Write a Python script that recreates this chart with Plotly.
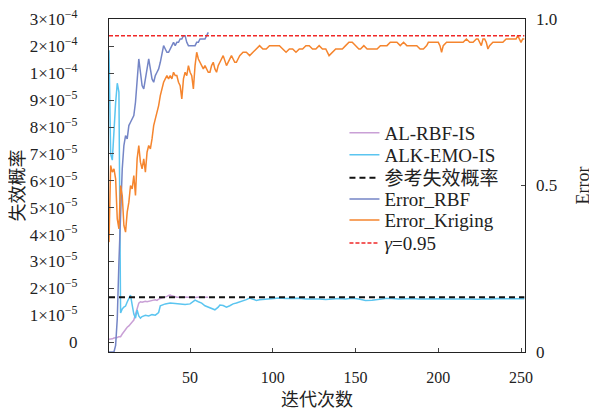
import plotly.graph_objects as go

# ---------------- data ----------------
# failure probability values in units of 1e-5
rbf_pf_iter = list(range(1, 62))
rbf_pf_val = [0.10, 0.10, 0.12, 0.15, 0.15, 0.17, 0.20, 0.20, 0.30, 0.40,
              0.50, 0.55, 0.60, 0.70, 0.75, 0.82, 1.05, 1.20, 1.45, 1.50,
              1.48, 1.50, 1.52, 1.50, 1.52, 1.53, 1.55, 1.56, 1.57, 1.55,
              1.60, 1.62, 1.63, 1.65, 1.66, 1.70, 1.73, 1.75, 1.72, 1.70,
              1.68, 1.67, 1.67, 1.66, 1.67, 1.68, 1.67, 1.66, 1.67, 1.67,
              1.68, 1.67, 1.66, 1.67, 1.67, 1.68, 1.67, 1.67, 1.66, 1.67, 1.67]

emo_pf_iter = [1, 2, 3, 4, 5, 6, 7, 8, 9, 10, 11, 12, 13, 14, 15, 16, 17, 18, 19, 20,
               21, 23, 25, 27, 29, 31, 32, 33, 35, 38, 41, 44, 47, 50, 52, 53, 55, 57, 59, 61,
               63, 65, 67, 68, 70, 72, 74, 76, 78, 80, 82, 84, 86, 88, 90, 92, 94, 96, 98, 100,
               104, 108, 112, 116, 120, 124, 128, 132, 136, 140, 144, 148, 152, 156, 160, 164,
               168, 172, 176, 180, 184, 188, 192, 196, 200, 204, 208, 212, 216, 220, 224, 228,
               232, 236, 240, 244, 248, 252]
emo_pf_val = [18.6, 7.0, 6.77, 7.96, 8.9, 9.63, 9.3, 1.08, 1.23, 1.30, 1.34, 1.49, 1.64, 1.75, 1.38, 1.04, 0.89, 1.19, 0.97, 0.89,
              0.95, 1.00, 0.97, 1.02, 1.00, 1.10, 1.35, 1.38, 1.42, 1.45, 1.44, 1.43, 1.40, 1.42, 1.50, 1.56, 1.50, 1.45, 1.35, 1.30,
              1.25, 1.20, 1.30, 1.38, 1.36, 1.30, 1.35, 1.42, 1.45, 1.49, 1.52, 1.58, 1.64, 1.60, 1.55, 1.57, 1.58, 1.60, 1.60, 1.62,
              1.64, 1.62, 1.63, 1.63, 1.60, 1.61, 1.60, 1.58, 1.60, 1.62, 1.60, 1.63, 1.60, 1.55, 1.56, 1.60,
              1.62, 1.62, 1.60, 1.61, 1.62, 1.60, 1.61, 1.62, 1.61, 1.60, 1.60, 1.62, 1.61, 1.60, 1.59, 1.61,
              1.60, 1.62, 1.61, 1.62, 1.61, 1.61]

ref_pf = 1.67
ref_iter = [1, 252]

# errors (right axis)
err_rbf_iter = list(range(1, 62))
err_rbf_val = [0.0, 0.0, 0.0, 0.0, 0.02, 0.10, 0.27, 0.45, 0.55, 0.62,
               0.65, 0.64, 0.68, 0.69, 0.70, 0.71, 0.75, 0.83, 0.88, 0.84,
               0.80, 0.79, 0.82, 0.86, 0.88, 0.85, 0.82, 0.81, 0.83, 0.84,
               0.85, 0.87, 0.90, 0.92, 0.91, 0.90, 0.90, 0.91, 0.92, 0.93,
               0.92, 0.93, 0.93, 0.94, 0.94, 0.95, 0.95, 0.93, 0.92, 0.92,
               0.92, 0.92, 0.92, 0.93, 0.93, 0.94, 0.94, 0.94, 0.94, 0.95, 0.96]

err_krg_iter = list(range(1, 69)) + [70, 72, 74, 75, 77, 78, 80, 82, 84, 86, 88, 90, 92, 94, 96, 98,
    100, 102, 104, 106, 108, 110, 112, 114, 116, 118, 120, 122, 124, 126, 128, 130, 132, 134, 136,
    138, 140, 142, 144, 146, 148, 150, 152, 153, 155, 157, 159, 161, 163, 165, 167, 169, 171, 173,
    175, 177, 179, 181, 183, 185, 187, 189, 191, 193, 194, 196, 198, 200, 201, 202, 203, 205, 207,
    209, 211, 213, 215, 217, 219, 221, 223, 224, 225, 226, 227, 228, 229, 230, 231, 233, 235, 237,
    239, 241, 243, 245, 247, 248, 249, 250, 251, 252]
err_krg_val = [0.33, 0.56, 0.54, 0.55, 0.52, 0.40, 0.37, 0.50, 0.47, 0.38,
               0.36, 0.42, 0.45, 0.50, 0.49, 0.53, 0.47, 0.58, 0.62, 0.57,
               0.55, 0.58, 0.54, 0.60, 0.62, 0.61, 0.64, 0.68, 0.70, 0.72,
               0.74, 0.77, 0.79, 0.81, 0.82, 0.83, 0.82, 0.83, 0.82, 0.84,
               0.83, 0.83, 0.81, 0.80, 0.76, 0.82, 0.84, 0.83, 0.86, 0.84,
               0.83, 0.79, 0.86, 0.90, 0.88, 0.87, 0.86, 0.85, 0.86, 0.85,
               0.84, 0.84, 0.86, 0.87, 0.85, 0.84, 0.86, 0.87,
               0.89, 0.86, 0.88, 0.89, 0.87, 0.87, 0.89, 0.90, 0.90, 0.89, 0.90, 0.91, 0.92, 0.91, 0.91, 0.92,
               0.92, 0.92, 0.92, 0.91, 0.90, 0.91, 0.91, 0.90, 0.91, 0.91, 0.92, 0.92, 0.91, 0.91, 0.92,
               0.91, 0.91, 0.89, 0.90, 0.91, 0.91, 0.91, 0.92, 0.93, 0.93, 0.92, 0.91, 0.91, 0.92,
               0.91, 0.91, 0.91, 0.91, 0.92, 0.92, 0.92, 0.93, 0.93, 0.93, 0.92, 0.93, 0.92, 0.92,
               0.92, 0.92, 0.91, 0.91, 0.92, 0.93, 0.93, 0.93, 0.93, 0.92, 0.90, 0.92, 0.93, 0.93,
               0.93, 0.93, 0.93, 0.93, 0.94, 0.93, 0.93, 0.94, 0.94, 0.93, 0.92, 0.94, 0.94, 0.93,
               0.91, 0.92, 0.93, 0.93, 0.93, 0.93, 0.94, 0.94, 0.94, 0.94, 0.95, 0.94, 0.93, 0.94, 0.94]

gamma = 0.95

# tick labels
left_tickvals = [0, 1, 2, 3, 4, 5, 6, 7, 8, 9, 10, 20, 30]  # units of 1e-5
left_ticktext = ["0"] + [f"{k}×10<sup>−5</sup>" for k in range(1, 10)] + \
                ["1×10<sup>−4</sup>", "2×10<sup>−4</sup>", "3×10<sup>−4</sup>"]
x_ticks = [50, 100, 150, 200, 250]


def to_axis(v):
    # broken (piecewise linear) axis: 1e-5 per unit below 1e-4, 1e-4 per unit above
    return v if v <= 10 else 10 + (v - 10) / 10.0


FONT = "Liberation Serif, 'Times New Roman', 'Noto Sans CJK SC', serif"

fig = go.Figure()
fig.add_trace(go.Scatter(x=rbf_pf_iter, y=[to_axis(v) for v in rbf_pf_val], mode="lines",
                         name="AL-RBF-IS", legend="legend",
                         line=dict(color="#C9A0D6", width=1.5)))
fig.add_trace(go.Scatter(x=emo_pf_iter, y=[to_axis(v) for v in emo_pf_val], mode="lines",
                         name="ALK-EMO-IS", legend="legend2",
                         line=dict(color="#5BC5F0", width=1.5)))
fig.add_trace(go.Scatter(x=ref_iter, y=[to_axis(ref_pf)] * 2, mode="lines",
                         name="参考失效概率", legend="legend3",
                         line=dict(color="#111111", width=2, dash="6px,4px")))
fig.add_trace(go.Scatter(x=err_rbf_iter, y=err_rbf_val, mode="lines", yaxis="y2",
                         name="Error_RBF", legend="legend4",
                         line=dict(color="#7485C6", width=1.5)))
fig.add_trace(go.Scatter(x=err_krg_iter, y=err_krg_val, mode="lines", yaxis="y2",
                         name="Error_Kriging", legend="legend5",
                         line=dict(color="#F5852E", width=1.5)))
fig.add_trace(go.Scatter(x=ref_iter, y=[gamma] * 2, mode="lines", yaxis="y2",
                         name="<i>γ</i>=0.95", legend="legend6",
                         line=dict(color="#F02828", width=1.5, dash="4px,2px")))

legend_y = [0.658, 0.592, 0.523, 0.459, 0.396, 0.327]
legend_common = dict(x=0.566, xanchor="left", yanchor="middle",
                     bgcolor="rgba(0,0,0,0)", font=dict(size=19, family=FONT, color="#222222"),
                     itemwidth=30)

# page body has an 8px margin: figure is sized/offset to compensate
fig.update_layout(
    width=589, height=411,
    margin=dict(l=101, r=72, t=11, b=67),
    paper_bgcolor="white", plot_bgcolor="white",
    font=dict(family=FONT, size=16, color="#222222"),
    showlegend=True,
    legend=dict(y=legend_y[0], **legend_common),
    legend2=dict(y=legend_y[1], **legend_common),
    legend3=dict(y=legend_y[2], **legend_common),
    legend4=dict(y=legend_y[3], **legend_common),
    legend5=dict(y=legend_y[4], **legend_common),
    legend6=dict(y=legend_y[5], **legend_common),
    xaxis=dict(range=[1, 252.4], tickvals=x_ticks, ticks="inside", ticklen=4,
               automargin=False, ticklabelstandoff=11, ticklabeloverflow="allow",
               tickfont=dict(size=16),
               showgrid=False, zeroline=False, showline=True, linecolor="#222222",
               linewidth=1.3, mirror=True,
               title=dict(text="迭代次数", font=dict(size=18, family=FONT), standoff=8)),
    yaxis=dict(range=[-0.37, 12.02], tickvals=[to_axis(v) for v in left_tickvals],
               ticktext=left_ticktext, ticks="inside", ticklen=5,
               automargin=False, ticklabelstandoff=27, ticklabeloverflow="allow",
               tickfont=dict(size=17),
               showgrid=False, zeroline=False, showline=True, linecolor="#222222",
               linewidth=1.3, mirror=True,
               title=dict(text="失效概率", font=dict(size=18, family=FONT), standoff=3)),
    yaxis2=dict(range=[0, 1], overlaying="y", side="right", tickvals=[0, 0.5, 1],
                ticktext=["0", "0.5", "1.0"], ticks="inside", ticklen=4,
                automargin=False, ticklabelstandoff=10, ticklabeloverflow="allow",
                tickfont=dict(size=17),
                showgrid=False, zeroline=False, showline=False,
                title=dict(text="Error", font=dict(size=18, family=FONT), standoff=20)),
)

fig.write_html("out.html")
